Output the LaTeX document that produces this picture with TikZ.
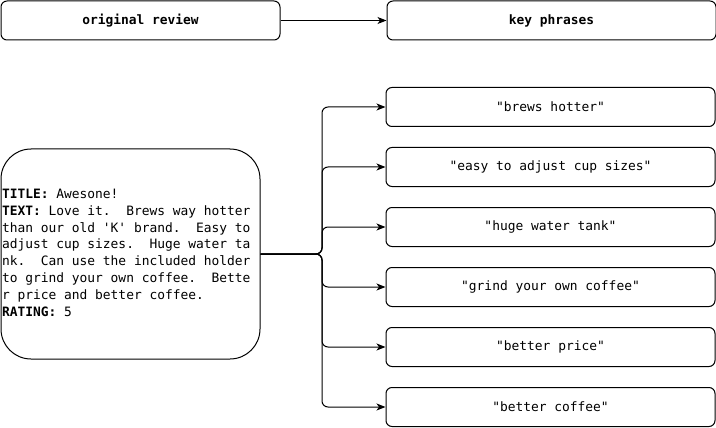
\documentclass[tikz,border=0pt]{standalone}
\usepackage{fontspec}
\setmonofont{DejaVu Sans Mono}
\newfontfamily\monofont{DejaVu Sans Mono}
\newcommand{\reviewfont}{\fontsize{12.9}{16.9}\selectfont\monofont}
\usetikzlibrary{positioning,arrows.meta}

\begin{document}
\begin{tikzpicture}[
  x=1pt,y=-1pt,
  node distance=20pt and 106pt,
  every node/.style={font=\reviewfont,inner sep=0pt},
  head/.style={draw,line width=1pt,rounded corners=6pt,minimum height=39pt,font=\reviewfont\bfseries},
  phrase/.style={draw,line width=1pt,rounded corners=6pt,minimum width=329pt,minimum height=39pt},
  review/.style={draw,line width=1pt,rounded corners=30pt,minimum width=259pt,minimum height=210pt},
  arr/.style={-{Stealth[length=9pt,width=7pt,inset=2.5pt]},line width=1pt}
]
  \useasboundingbox (0,0) rectangle (716,428);

  \node[head,minimum width=279pt] (original) at (140.5,20.5) {original review};
  \node[head,minimum width=329pt,right=of original] (keys) {key phrases};

  \node[review] (review) at (130.5,254) {\makebox[257pt][l]{\reviewfont
\begin{tabular}{@{}l@{}}
\textbf{TITLE:} Awesone!\\
\textbf{TEXT:} Love it.\ \ Brews way hotter\\
than our old 'K' brand.\ \ Easy to\\
adjust cup sizes.\ \ Huge water ta\\
nk.\ \ Can use the included holder\\
to grind your own coffee.\ \ Bette\\
r price and better coffee.\\
\textbf{RATING:} 5
\end{tabular}}};

  \node[phrase] (hotter) at (550.5,107) {"brews hotter"};
  \node[phrase,below=of hotter] (cupsizes) {"easy to adjust cup sizes"};
  \node[phrase,below=of cupsizes] (tank) {"huge water tank"};
  \node[phrase,below=of tank] (grind) {"grind your own coffee"};
  \node[phrase,below=of grind] (price) {"better price"};
  \node[phrase,below=of price] (coffee) {"better coffee"};

  \coordinate (fork) at (322,254);

  \draw[arr] (original) -- (keys);
  \draw[arr,rounded corners=6pt] (review.east) -- (fork) |- (hotter.west);
  \draw[arr,rounded corners=6pt] (review.east) -- (fork) |- (cupsizes.west);
  \draw[arr,rounded corners=6pt] (review.east) -- (fork) |- (tank.west);
  \draw[arr,rounded corners=6pt] (review.east) -- (fork) |- (grind.west);
  \draw[arr,rounded corners=6pt] (review.east) -- (fork) |- (price.west);
  \draw[arr,rounded corners=6pt] (review.east) -- (fork) |- (coffee.west);
\end{tikzpicture}
\end{document}
